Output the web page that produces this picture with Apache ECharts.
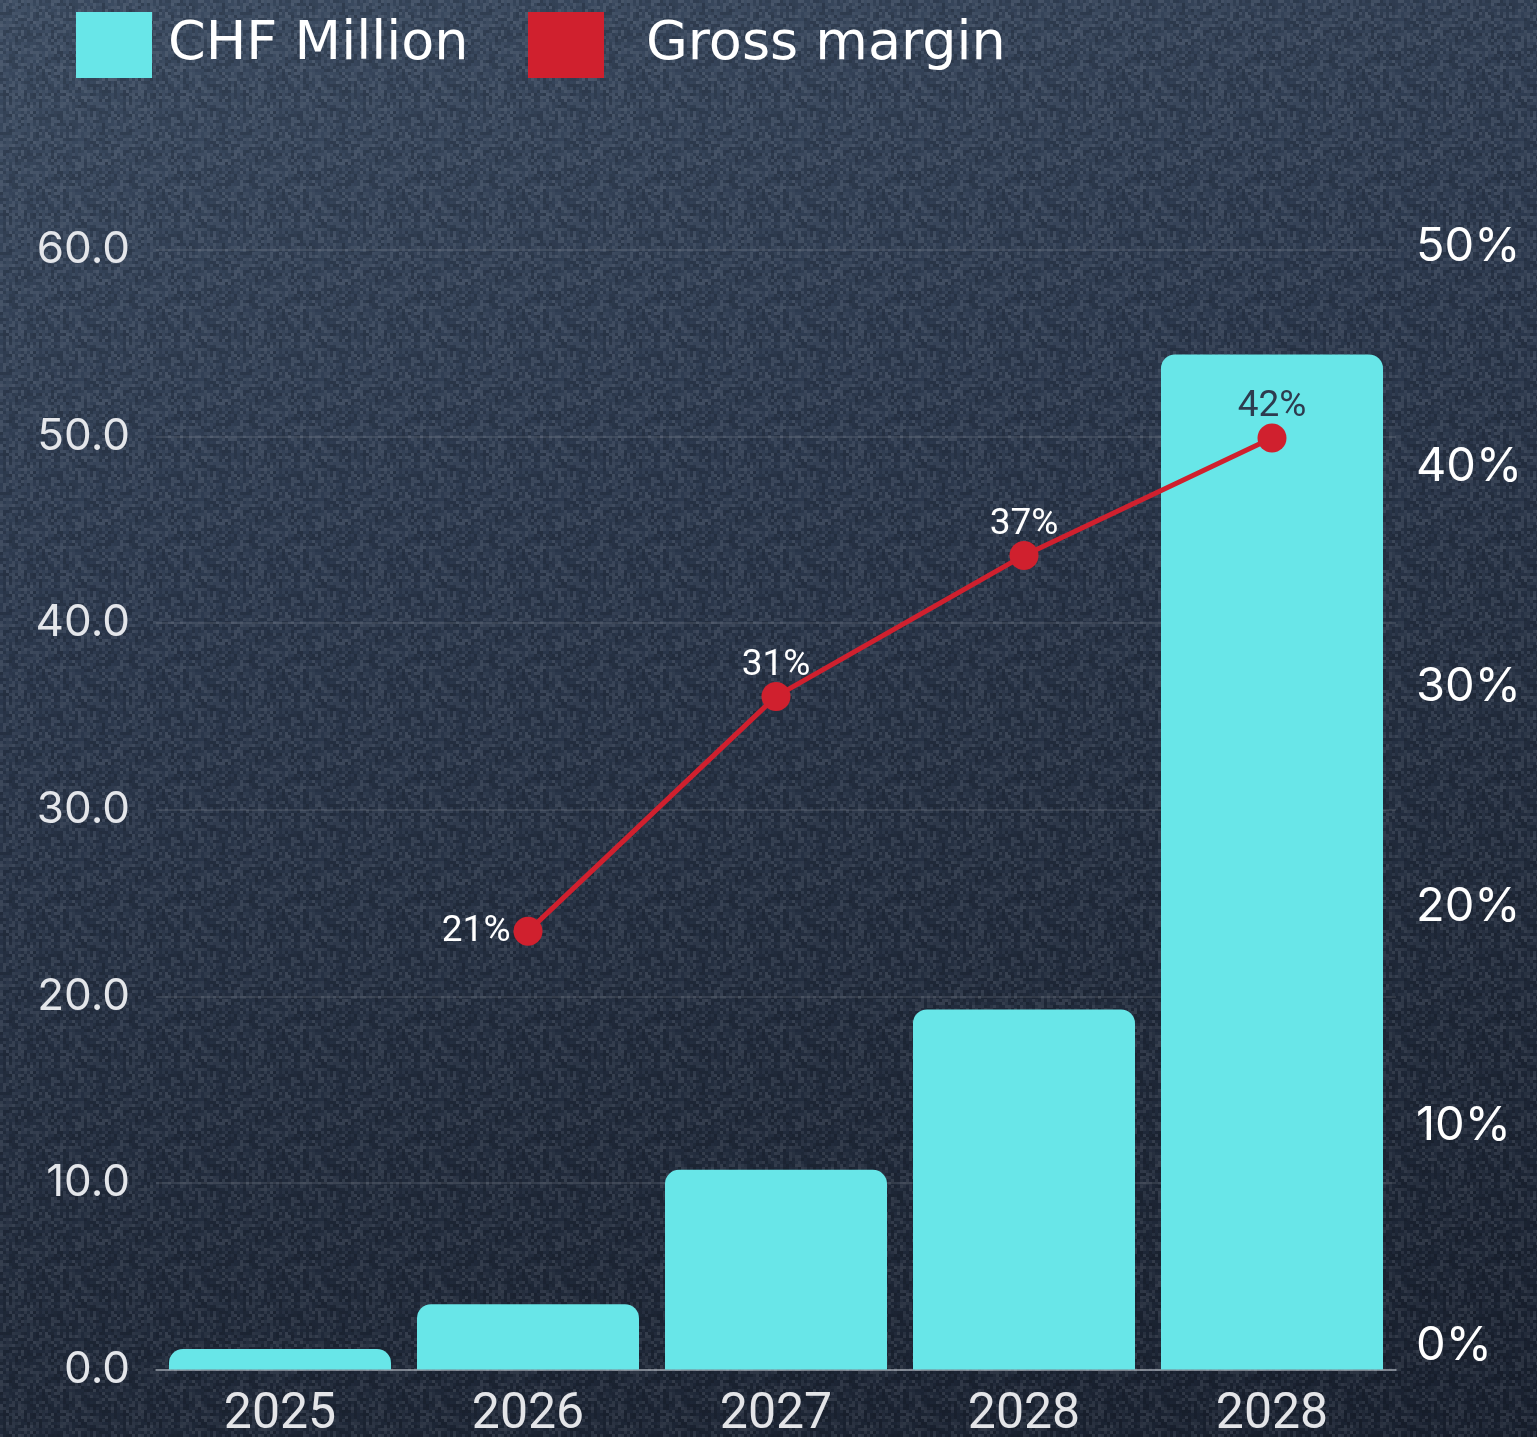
<!DOCTYPE html>
<html>
<head>
<meta charset="utf-8">
<script src="https://cdn.jsdelivr.net/npm/echarts@6/dist/echarts.min.js"></script>
<style>
  html, body { margin: 0; padding: 0; width: 1537px; height: 1437px; overflow: hidden; }
  body { background: linear-gradient(165deg, #3b4b60 0%, #2c394d 35%, #222c3d 70%, #1a2231 100%); }
  #chart { position: absolute; left: 0; top: 0; width: 1537px; height: 1437px; }
</style>
</head>
<body>
<div id="chart"></div>
<script>
// ---- data ----
const categories = ['2025', '2026', '2027', '2028', '2028'];
const revenueChf = [1.1, 3.5, 10.7, 19.3, 54.4];          // CHF Million (bars, left axis)
const grossMargin = [null, 21, 31, 37, 42];               // Gross margin, % (line)
const leftTicks = [0, 10, 20, 30, 40, 50, 60];
const rightTicks = [0, 10, 20, 30, 40, 50];

// ---- subtle deterministic texture for the page background ----
(function () {
  const c = document.createElement('canvas');
  c.width = 120; c.height = 120;
  const g = c.getContext('2d');
  let s = 12345;
  function next() { s = (s * 1103515245 + 12345) & 0x7fffffff; return s / 0x7fffffff; }
  for (let y = 0; y < 120; y += 3) {
    for (let x = 0; x < 120; x += 3) {
      const r = next();
      g.fillStyle = r > 0.5 ? 'rgba(255,255,255,' + ((r - 0.5) * 0.2).toFixed(3) + ')'
                            : 'rgba(0,0,0,' + ((0.5 - r) * 0.36).toFixed(3) + ')';
      g.fillRect(x, y, 3, 3);
    }
  }
  document.body.style.backgroundImage = 'url(' + c.toDataURL() + '), ' +
    'linear-gradient(165deg, #3c4c62 0%, #2d3a4f 35%, #222c3d 70%, #1a2231 100%)';
})();

const chart = echarts.init(document.getElementById('chart'), null, { renderer: 'canvas' });

const lineData = grossMargin.map(function (v, i) {
  if (v == null) return null;
  const item = { value: v };
  if (i === 1) item.label = { position: 'left', distance: 3 };
  if (i === grossMargin.length - 1) item.label = { color: '#2d3b4e' };
  return item;
});

const option = {
  backgroundColor: 'transparent',
  animation: false,
  legend: [
    {
      data: ['CHF Million'],
      left: 71, top: 7,
      icon: 'rect', itemWidth: 76, itemHeight: 66,
      textStyle: { color: '#ffffff', fontSize: 54, fontFamily: 'DejaVu Sans', padding: [0, 0, 0, 11] }
    },
    {
      data: ['Gross margin'],
      left: 523, top: 7,
      icon: 'rect', itemWidth: 76, itemHeight: 66,
      textStyle: { color: '#ffffff', fontSize: 54, fontFamily: 'DejaVu Sans', padding: [0, 0, 0, 37] }
    }
  ],
  grid: [
    { left: 156, right: 141, top: 250, bottom: 67.5, containLabel: false, outerBoundsMode: 'none' },
    { left: 156, right: 141, top: 247, bottom: 91, containLabel: false, outerBoundsMode: 'none' }
  ],
  xAxis: [
    {
      type: 'category', gridIndex: 0, data: categories,
      axisTick: { show: false },
      axisLine: { show: true, lineStyle: { color: 'rgba(205,210,218,0.65)', width: 1.5 } },
      axisLabel: { color: '#e4e5e8', fontSize: 50, fontFamily: 'Roboto', margin: 21 }
    },
    { type: 'category', gridIndex: 1, data: categories, show: false }
  ],
  yAxis: [
    {
      type: 'value', gridIndex: 0, position: 'left',
      min: leftTicks[0], max: leftTicks[leftTicks.length - 1], interval: leftTicks[1] - leftTicks[0],
      axisLine: { show: false }, axisTick: { show: false },
      splitLine: { show: true, lineStyle: { color: 'rgba(255,255,255,0.13)', width: 1.5 } },
      axisLabel: {
        color: '#e4e6ea', fontSize: 44, fontFamily: 'Inter', margin: 26,
        formatter: function (v) { return v.toFixed(1); }
      }
    },
    {
      type: 'value', gridIndex: 1, position: 'right',
      min: rightTicks[0], max: rightTicks[rightTicks.length - 1], interval: rightTicks[1] - rightTicks[0],
      axisLine: { show: false }, axisTick: { show: false }, splitLine: { show: false },
      axisLabel: {
        color: '#ffffff', fontSize: 47, fontFamily: 'Inter', margin: 20, align: 'left',
        formatter: function (v) { return v + '%'; }
      }
    },
    {
      // scale the margin line is drawn against (kept unlabeled; visible % labels are on the right)
      type: 'value', gridIndex: 0, position: 'right', show: false,
      min: 2.35, max: 50, splitLine: { show: false }
    }
  ],
  series: [
    {
      name: 'CHF Million', type: 'bar',
      xAxisIndex: 0, yAxisIndex: 0,
      data: revenueChf,
      barWidth: 222,
      itemStyle: { color: '#68e6e8', borderRadius: [14, 14, 0, 0] },
      z: 2
    },
    {
      name: 'Gross margin', type: 'line',
      xAxisIndex: 0, yAxisIndex: 2,
      data: lineData,
      symbol: 'circle', symbolSize: 29,
      lineStyle: { color: '#d0202e', width: 5 },
      itemStyle: { color: '#d0202e' },
      label: {
        show: true, position: 'top', distance: -2,
        color: '#ffffff', fontSize: 37, fontFamily: 'Roboto',
        formatter: function (p) { return p.value + '%'; }
      },
      z: 5
    }
  ]
};

chart.setOption(option);
</script>
</body>
</html>
